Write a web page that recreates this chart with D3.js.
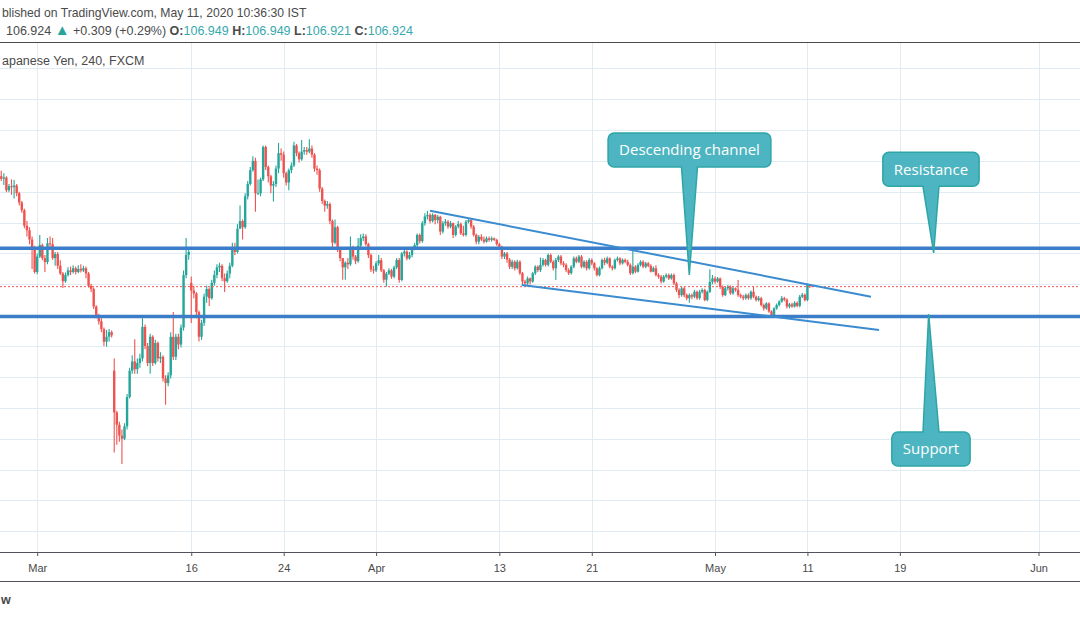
<!doctype html>
<html lang='en'>
  <head>
    <meta charset='utf-8' />
    <style>
      * {
        padding: 0;
        margin: 0;
      }

      body {
        background: #fff;
        font-family: 'Liberation Sans', Arial, sans-serif;
      }

      #container {
        width: 1080px;
        height: 618px;
        overflow: hidden;
      }
    </style>
    <title>USD/JPY 240</title>
  </head>
  <body>
    <div id='container'></div>
    <script src='https://d3js.org/d3.v7.min.js'></script>
    <script type='text/javascript'>

      // 4h bars, index 0 = first visible bar (Feb 27), Mar 2 starts at bar 14
      var firstOpen = 110.50;
      var gapOpens = {44: 104.20, 74: 107.05};   // weekend gaps

      var closes = [
        110.42, 110.46, 110.05, 110.18, 110.15, 110.20,
        109.95, 109.65, 109.40, 108.90, 108.75, 108.45,
        108.15, 107.40,
        107.90, 108.27, 107.85, 107.72, 108.33, 108.30,
        107.85, 107.98, 107.60, 107.35, 107.10, 107.30,
        107.45, 107.40, 107.52, 107.40, 107.50, 107.45,
        107.52, 107.35, 106.95, 106.85, 106.28, 106.00,
        105.80, 105.55, 105.14, 105.30, 105.45, 105.35,
        102.85, 102.45, 102.10, 102.00, 102.40, 103.35,
        104.20, 104.50, 104.25, 104.45, 104.60, 105.62,
        105.00, 104.45, 105.30, 104.45, 105.10, 104.60,
        104.65, 103.95, 103.80, 104.05, 105.30, 104.65,
        105.30, 105.05, 105.60, 107.30, 107.95, 108.05,
        106.80, 106.70, 106.10, 105.30, 105.75, 106.60,
        106.85, 106.55, 107.05, 107.30, 107.55, 107.60,
        107.20, 107.10, 107.35, 107.60, 108.20, 108.05,
        108.80, 109.05, 108.85, 109.85, 110.25, 110.70,
        111.00, 109.95, 109.95, 110.40, 111.45, 110.80,
        110.50, 110.20, 110.25, 110.75, 111.25, 111.20,
        110.60, 110.30, 110.70, 110.85, 111.50, 111.25,
        111.05, 111.30, 111.35, 111.30, 111.40, 111.20,
        110.75, 110.70, 110.10, 109.70, 109.55, 109.60,
        109.05, 108.35, 108.85, 108.15, 107.85, 107.55,
        107.70, 107.65, 108.20, 107.90, 107.75, 108.25,
        108.50, 108.55, 108.30, 107.95, 107.48, 107.45,
        107.68, 107.78, 107.45, 107.15, 107.35, 107.45,
        107.25, 107.55, 107.79, 107.14, 108.00, 108.06,
        107.84, 107.95, 108.15, 108.27, 108.60, 108.40,
        108.98, 109.20, 109.25, 109.05, 109.25, 109.08,
        109.19, 108.71, 108.98, 109.03, 108.87, 108.98,
        108.60, 108.87, 108.95, 108.65, 108.60, 109.03,
        109.08, 108.87, 108.60, 108.38, 108.54, 108.45,
        108.38, 108.49, 108.44, 108.49, 108.44, 108.30,
        108.22, 107.90, 108.00, 107.80, 107.57, 107.73,
        107.52, 107.73, 107.36, 107.09, 107.03, 107.19,
        107.09, 107.36, 107.57, 107.46, 107.63, 107.79,
        107.63, 107.95, 107.73, 107.52, 107.79, 107.90,
        107.68, 107.63, 107.46, 107.36, 107.57, 107.84,
        107.73, 107.90, 107.57, 107.73, 107.52, 107.79,
        107.68, 107.52, 107.30, 107.52, 107.79, 107.70,
        107.84, 107.57, 107.52, 107.79, 107.84, 107.68,
        107.79, 107.73, 107.63, 107.36, 107.57, 107.41,
        107.63, 107.73, 107.57, 107.68, 107.60, 107.41,
        107.52, 107.30, 107.25, 107.09, 107.25, 107.30,
        107.19, 107.30, 107.03, 106.82, 106.65, 106.87,
        106.65, 106.55, 106.65, 106.60, 106.76, 106.55,
        106.76, 106.82, 106.49, 106.76, 107.08, 107.19,
        107.09, 107.19, 106.92, 106.65, 106.87, 106.92,
        106.71, 106.87, 106.82, 106.65, 106.60, 106.55,
        106.65, 106.55, 106.76, 106.60, 106.49, 106.55,
        106.33, 106.22, 106.38, 106.12, 106.01, 106.22,
        106.33, 106.44, 106.55, 106.50, 106.28, 106.35,
        106.28, 106.40, 106.30, 106.60, 106.66, 106.49,
        106.98, 106.949, 106.924
      ];

      var highs = [
        110.68, 110.60, 110.50, 110.25, 110.40, 110.38,
        110.25, 110.00, 109.70, 109.45, 109.05, 108.85,
        108.55, 108.25,
        108.00, 108.60, 108.32, 107.95, 108.50, 108.55,
        108.50, 108.05, 108.05, 107.78, 107.40, 107.38,
        107.55, 107.58, 107.62, 107.58, 107.62, 107.65,
        107.60, 107.58, 107.40, 107.02, 106.90, 106.32,
        106.05, 105.90, 105.60, 105.52, 105.55, 105.50,
        104.60, 102.90, 102.55, 102.30, 102.50, 103.45,
        104.30, 104.70, 105.22, 104.60, 104.75, 105.90,
        105.70, 105.10, 105.40, 105.35, 105.20, 105.15,
        104.80, 104.70, 104.05, 104.15, 105.45, 106.10,
        105.40, 105.40, 105.70, 107.45, 108.50, 108.20,
        107.25, 106.95, 106.75, 106.15, 105.85, 106.70,
        106.95, 106.90, 107.15, 107.45, 107.65, 107.70,
        107.65, 107.35, 107.45, 107.70, 108.35, 108.35,
        108.95, 109.55, 109.10, 109.95, 110.35, 110.80,
        111.15, 111.10, 110.40, 110.45, 111.50, 111.50,
        110.85, 110.55, 110.35, 110.85, 111.58, 111.40,
        111.30, 110.65, 110.75, 110.95, 111.62, 111.55,
        111.30, 111.68, 111.45, 111.45, 111.70, 111.50,
        111.25, 110.85, 110.75, 110.15, 109.75, 109.70,
        109.65, 109.10, 109.10, 108.90, 108.20, 107.85,
        107.75, 107.85, 108.55, 108.25, 107.95, 108.50,
        108.62, 108.65, 108.62, 108.35, 108.00, 107.60,
        107.75, 107.95, 107.85, 107.50, 107.40, 107.52,
        107.50, 107.60, 107.85, 107.85, 108.05, 108.15,
        108.10, 108.05, 108.22, 108.35, 108.65, 108.65,
        109.05, 109.30, 109.38, 109.30, 109.30, 109.28,
        109.25, 109.22, 109.05, 109.12, 109.08, 109.05,
        109.00, 108.92, 109.05, 109.00, 108.90, 109.08,
        109.15, 109.12, 108.92, 108.65, 108.60, 108.62,
        108.55, 108.55, 108.55, 108.55, 108.52, 108.48,
        108.35, 108.25, 108.05, 108.05, 107.85, 107.80,
        107.78, 107.80, 107.78, 107.40, 107.15, 107.25,
        107.22, 107.40, 107.62, 107.62, 107.87, 107.85,
        107.83, 108.00, 108.00, 107.78, 107.85, 107.95,
        107.95, 107.75, 107.68, 107.52, 107.62, 107.90,
        107.90, 107.95, 107.95, 107.78, 107.78, 107.85,
        107.84, 107.72, 107.56, 107.58, 107.84, 107.86,
        107.90, 107.88, 107.62, 107.84, 107.90, 107.88,
        107.84, 107.84, 107.80, 107.68, 108.11, 107.62,
        107.68, 107.78, 107.78, 107.73, 107.72, 107.65,
        107.58, 107.62, 107.36, 107.30, 107.30, 107.36,
        107.35, 107.35, 107.35, 107.08, 106.87, 106.92,
        106.92, 106.70, 106.70, 106.70, 106.82, 106.80,
        106.82, 106.87, 106.86, 106.80, 107.49, 107.30,
        107.25, 107.24, 107.22, 106.96, 106.92, 106.98,
        106.96, 106.92, 106.90, 107.14, 106.70, 106.66,
        106.70, 106.71, 106.80, 106.92, 106.64, 106.62,
        106.60, 106.38, 106.42, 106.42, 106.16, 106.26,
        106.38, 106.48, 106.62, 106.60, 106.55, 106.40,
        106.40, 106.45, 106.44, 106.65, 106.72, 106.70,
        107.02, 107.00, 106.949
      ];

      var lows = [
        110.35, 110.22, 109.98, 109.98, 109.90, 109.78,
        109.85, 109.55, 109.32, 108.82, 108.55, 108.30,
        107.50, 107.35,
        107.33, 107.85, 107.78, 107.40, 107.65, 108.20,
        107.80, 107.60, 107.50, 107.30, 106.88, 107.05,
        107.25, 107.30, 107.35, 107.32, 107.36, 107.38,
        107.40, 107.20, 106.90, 106.75, 106.20, 105.90,
        105.70, 105.45, 105.00, 104.98, 105.15, 105.28,
        101.55, 101.80, 101.90, 101.18, 101.95, 102.30,
        103.30, 104.10, 104.10, 104.10, 104.30, 104.50,
        104.90, 104.35, 104.10, 104.35, 104.40, 104.50,
        104.45, 103.85, 103.10, 103.70, 103.95, 104.55,
        104.55, 104.90, 104.95, 105.50, 107.20, 107.80,
        105.75, 106.55, 105.90, 105.15, 105.20, 105.65,
        106.40, 106.30, 106.50, 106.95, 107.20, 107.40,
        107.10, 106.75, 107.05, 107.20, 107.55, 107.95,
        108.00, 108.80, 108.45, 108.80, 109.75, 110.20,
        110.65, 109.35, 109.90, 109.85, 110.35, 110.70,
        110.30, 109.95, 109.68, 110.15, 110.60, 111.00,
        110.45, 110.20, 110.05, 110.60, 110.80, 111.15,
        110.95, 111.00, 111.20, 111.20, 111.25, 111.10,
        110.65, 110.55, 110.00, 109.60, 109.35, 109.45,
        108.95, 108.20, 108.30, 108.05, 107.75, 107.15,
        107.15, 107.50, 107.60, 107.80, 107.65, 107.70,
        108.20, 108.40, 108.25, 107.85, 107.40, 107.35,
        107.40, 107.60, 107.40, 107.05, 106.92, 107.30,
        107.18, 107.20, 107.50, 107.05, 107.10, 107.90,
        107.78, 107.80, 107.88, 108.10, 108.20, 108.32,
        108.35, 108.90, 109.10, 108.98, 109.00, 108.95,
        108.98, 108.60, 108.65, 108.90, 108.80, 108.82,
        108.50, 108.55, 108.82, 108.60, 108.55, 108.55,
        108.98, 108.80, 108.55, 108.30, 108.30, 108.40,
        108.32, 108.35, 108.38, 108.38, 108.40, 108.25,
        108.15, 107.82, 107.82, 107.70, 107.50, 107.50,
        107.45, 107.48, 107.30, 107.00, 106.94, 106.98,
        107.00, 107.05, 107.30, 107.40, 107.40, 107.58,
        107.58, 107.58, 107.68, 107.45, 107.14, 107.72,
        107.62, 107.55, 107.40, 107.30, 107.32, 107.52,
        107.68, 107.68, 107.52, 107.52, 107.45, 107.48,
        107.62, 107.45, 107.25, 107.26, 107.48, 107.62,
        107.65, 107.52, 107.45, 107.48, 107.74, 107.62,
        107.64, 107.68, 107.58, 107.30, 107.32, 107.36,
        107.38, 107.58, 107.52, 107.52, 107.55, 107.38,
        107.40, 107.25, 107.18, 107.03, 107.05, 107.20,
        107.14, 107.15, 106.98, 106.75, 106.55, 106.60,
        106.58, 106.48, 106.40, 106.52, 106.55, 106.50,
        106.50, 106.70, 106.45, 106.45, 106.72, 107.00,
        107.02, 107.05, 106.85, 106.60, 106.62, 106.80,
        106.66, 106.66, 106.76, 106.60, 106.55, 106.48,
        106.50, 106.50, 106.50, 106.55, 106.44, 106.44,
        106.28, 106.15, 106.18, 106.08, 105.97, 105.97,
        106.18, 106.28, 106.40, 106.45, 106.22, 106.22,
        106.24, 106.25, 106.26, 106.26, 106.56, 106.44,
        106.45, 106.88, 106.921
      ];

      var tickLabels = ['Mar', '16', '24', 'Apr', '13', '21', 'May', '11', '19', 'Jun'];
      var tickBars = [14, 74, 110, 146, 194, 230, 278, 314, 350, 404];

      var gridPrices = d3.range(99, 115);
      var resistance = 108.17,
          support = 105.96,
          lastPrice = 106.924;

      // channel lines, [bar, price] end points
      var channelTop = [[167, 109.385], [338.75, 106.60]];
      var channelBottom = [[202.7, 106.978], [341.9, 105.52]];

      var callouts = [
        {text: 'Descending channel', bar: 268.06, price: 111.353, tipBar: 267.98, tipPrice: 107.30},
        {text: 'Resistance', bar: 362.12, price: 110.728, tipBar: 363.17, tipPrice: 108.016},
        {text: 'Support', bar: 362.12, price: 101.664, tipBar: 361.22, tipPrice: 106.039}
      ];

      // header texts as they show in the cropped picture
      var publishedText = 'blished on TradingView.com, May 11, 2020 10:36:30 IST';
      var symbolText = 'apanese Yen, 240, FXCM';
      var brandText = 'w';

      const svg_width = 1080,
            svg_height = 618,
            plot_top = 42,
            plot_bottom = 552;

      var up = '#26a69a', down = '#ef5350';

      var x = d3.scaleLinear().domain([0, 404]).range([1.26, 1038.5]);
      var y = d3.scaleLinear().domain([101, 112]).range([469.5, 130]);

      var svg = d3.select('#container').append('svg')
          .attr('width', svg_width)
          .attr('height', svg_height)
          .style('display', 'block');

      svg.append('defs').append('clipPath').attr('id', 'plot')
        .append('rect')
        .attr('x', 0).attr('y', plot_top)
        .attr('width', svg_width).attr('height', plot_bottom - plot_top);

      // grid
      var grid = svg.append('g').attr('stroke', '#e1ebf2').attr('stroke-width', 1);
      grid.selectAll('.hg').data(gridPrices).enter().append('line')
        .attr('x1', 0).attr('x2', svg_width)
        .attr('y1', function(d) { return Math.round(y(d)) + 0.5; })
        .attr('y2', function(d) { return Math.round(y(d)) + 0.5; });
      grid.selectAll('.vg').data(tickBars).enter().append('line')
        .attr('x1', function(d) { return Math.round(x(d)) + 0.5; })
        .attr('x2', function(d) { return Math.round(x(d)) + 0.5; })
        .attr('y1', plot_top).attr('y2', plot_bottom);

      // header
      var head = svg.append('g').attr('font-size', 12.5).attr('fill', '#4a4a4a');
      head.append('text').attr('x', 2).attr('y', 17)
        .attr('font-size', 12.2)
        .text(publishedText);

      var legend = head.append('text').attr('x', 6).attr('y', 35);
      var last = closes[closes.length - 1];
      var prevClose = 106.615;
      var lastBar = {o: 106.949, h: 106.949, l: 106.921, c: last};
      legend.append('tspan').text(d3.format('.3f')(last) + ' ');
      legend.append('tspan').attr('fill', up).attr('font-size', 15).text('\u25B2');
      legend.append('tspan').text(' ' + d3.format('+.3f')(last - prevClose) + ' (' + d3.format('+.2%')((last - prevClose) / prevClose) + ') ');
      [['O', lastBar.o], ['H', lastBar.h], ['L', lastBar.l], ['C', lastBar.c]].forEach(function(p, i) {
        legend.append('tspan').attr('font-weight', 'bold').text((i ? ' ' : '') + p[0] + ':');
        legend.append('tspan').attr('fill', '#36a9ad').text(d3.format('.3f')(p[1]));
      });

      head.append('text').attr('x', 2).attr('y', 64.5)
        .text(symbolText);

      svg.append('line').attr('x1', 0).attr('x2', svg_width)
        .attr('y1', plot_top + 0.5).attr('y2', plot_top + 0.5)
        .attr('stroke', '#4a4a4a');

      // candles
      var bars = closes.map(function(c, i) {
        var o = i === 0 ? firstOpen : (gapOpens[i] !== undefined ? gapOpens[i] : closes[i - 1]);
        return {i: i, o: o, c: c, h: Math.max(highs[i], o, c), l: Math.min(lows[i], o, c)};
      });

      var plot = svg.append('g').attr('clip-path', 'url(#plot)');

      var candle = plot.selectAll('.candle').data(bars).enter().append('g')
        .attr('fill', function(d) { return d.c >= d.o ? up : down; })
        .attr('stroke', function(d) { return d.c >= d.o ? up : down; });

      candle.append('line')
        .attr('x1', function(d) { return x(d.i); })
        .attr('x2', function(d) { return x(d.i); })
        .attr('y1', function(d) { return y(d.h); })
        .attr('y2', function(d) { return y(d.l); })
        .attr('stroke-width', 1.1);

      candle.append('rect')
        .attr('stroke', 'none')
        .attr('x', function(d) { return x(d.i) - 1.2; })
        .attr('width', 2.4)
        .attr('y', function(d) { return y(Math.max(d.o, d.c)); })
        .attr('height', function(d) { return Math.max(1, Math.abs(y(d.o) - y(d.c))); });

      // last price
      plot.append('line')
        .attr('x1', 0).attr('x2', svg_width)
        .attr('y1', y(lastPrice)).attr('y2', y(lastPrice))
        .attr('stroke', down).attr('stroke-dasharray', '2,2');

      // support / resistance
      plot.selectAll('.level').data([resistance, support]).enter().append('line')
        .attr('x1', 0).attr('x2', svg_width)
        .attr('y1', function(d) { return y(d); })
        .attr('y2', function(d) { return y(d); })
        .attr('stroke', '#3b7dc8').attr('stroke-width', 3.5);

      // descending channel
      var seg = d3.line().x(function(d) { return x(d[0]); }).y(function(d) { return y(d[1]); });
      plot.selectAll('.channel').data([channelTop, channelBottom]).enter().append('path')
        .attr('d', seg)
        .attr('fill', 'none')
        .attr('stroke', '#3a8bd0').attr('stroke-width', 2);

      // callouts
      function calloutPath(cx, cy, w, h, tx, ty, r, base) {
        var x0 = cx - w / 2, x1 = cx + w / 2, y0 = cy - h / 2, y1 = cy + h / 2;
        var b0 = cx - base / 2, b1 = cx + base / 2;
        var p = d3.path();
        p.moveTo(x0 + r, y0);
        if (ty < y0) { p.lineTo(b0, y0); p.lineTo(tx, ty); p.lineTo(b1, y0); }
        p.lineTo(x1 - r, y0);
        p.arcTo(x1, y0, x1, y0 + r, r);
        p.lineTo(x1, y1 - r);
        p.arcTo(x1, y1, x1 - r, y1, r);
        if (ty > y1) { p.lineTo(b1, y1); p.lineTo(tx, ty); p.lineTo(b0, y1); }
        p.lineTo(x0 + r, y1);
        p.arcTo(x0, y1, x0, y1 - r, r);
        p.lineTo(x0, y0 + r);
        p.arcTo(x0, y0, x0 + r, y0, r);
        p.closePath();
        return p.toString();
      }

      callouts.forEach(function(c) {
        var g = plot.append('g');
        var cx = x(c.bar), cy = y(c.price);
        var label = g.append('text')
          .attr('x', cx).attr('y', cy).attr('dy', '0.35em')
          .attr('text-anchor', 'middle')
          .attr('fill', '#fff')
          .attr('font-family', "'Open Sans', sans-serif")
          .attr('font-size', 15)
          .text(c.text);
        var w = label.node().getComputedTextLength() + 22;
        g.insert('path', 'text')
          .attr('d', calloutPath(cx, cy, w, 34, x(c.tipBar), y(c.tipPrice), 6, 16))
          .attr('fill', '#4db5c1')
          .attr('stroke', '#2ea5a6')
          .attr('stroke-width', 1.5);
      });

      // time axis
      var xAxis = d3.axisBottom(x)
        .tickValues(tickBars)
        .tickFormat(function(d, i) { return tickLabels[i]; })
        .tickSize(4)
        .tickPadding(8);

      var axis = svg.append('g')
        .attr('transform', 'translate(0,' + plot_bottom + ')')
        .call(xAxis);
      axis.select('.domain').remove();
      axis.selectAll('line').attr('stroke', '#50535e');
      axis.selectAll('text')
        .attr('font-family', "'Liberation Sans', Arial, sans-serif")
        .attr('font-size', 11)
        .attr('fill', '#4a4a4a');

      svg.selectAll('.axisline').data([plot_bottom, 581]).enter().append('line')
        .attr('x1', 0).attr('x2', svg_width)
        .attr('y1', function(d) { return d + 0.5; })
        .attr('y2', function(d) { return d + 0.5; })
        .attr('stroke', '#50535e');

      svg.append('text')
        .attr('x', 1).attr('y', 604)
        .attr('font-size', 12.5)
        .attr('font-weight', 'bold')
        .attr('fill', '#4a4a4a')
        .text(brandText);
    </script>
  </body>
</html>
